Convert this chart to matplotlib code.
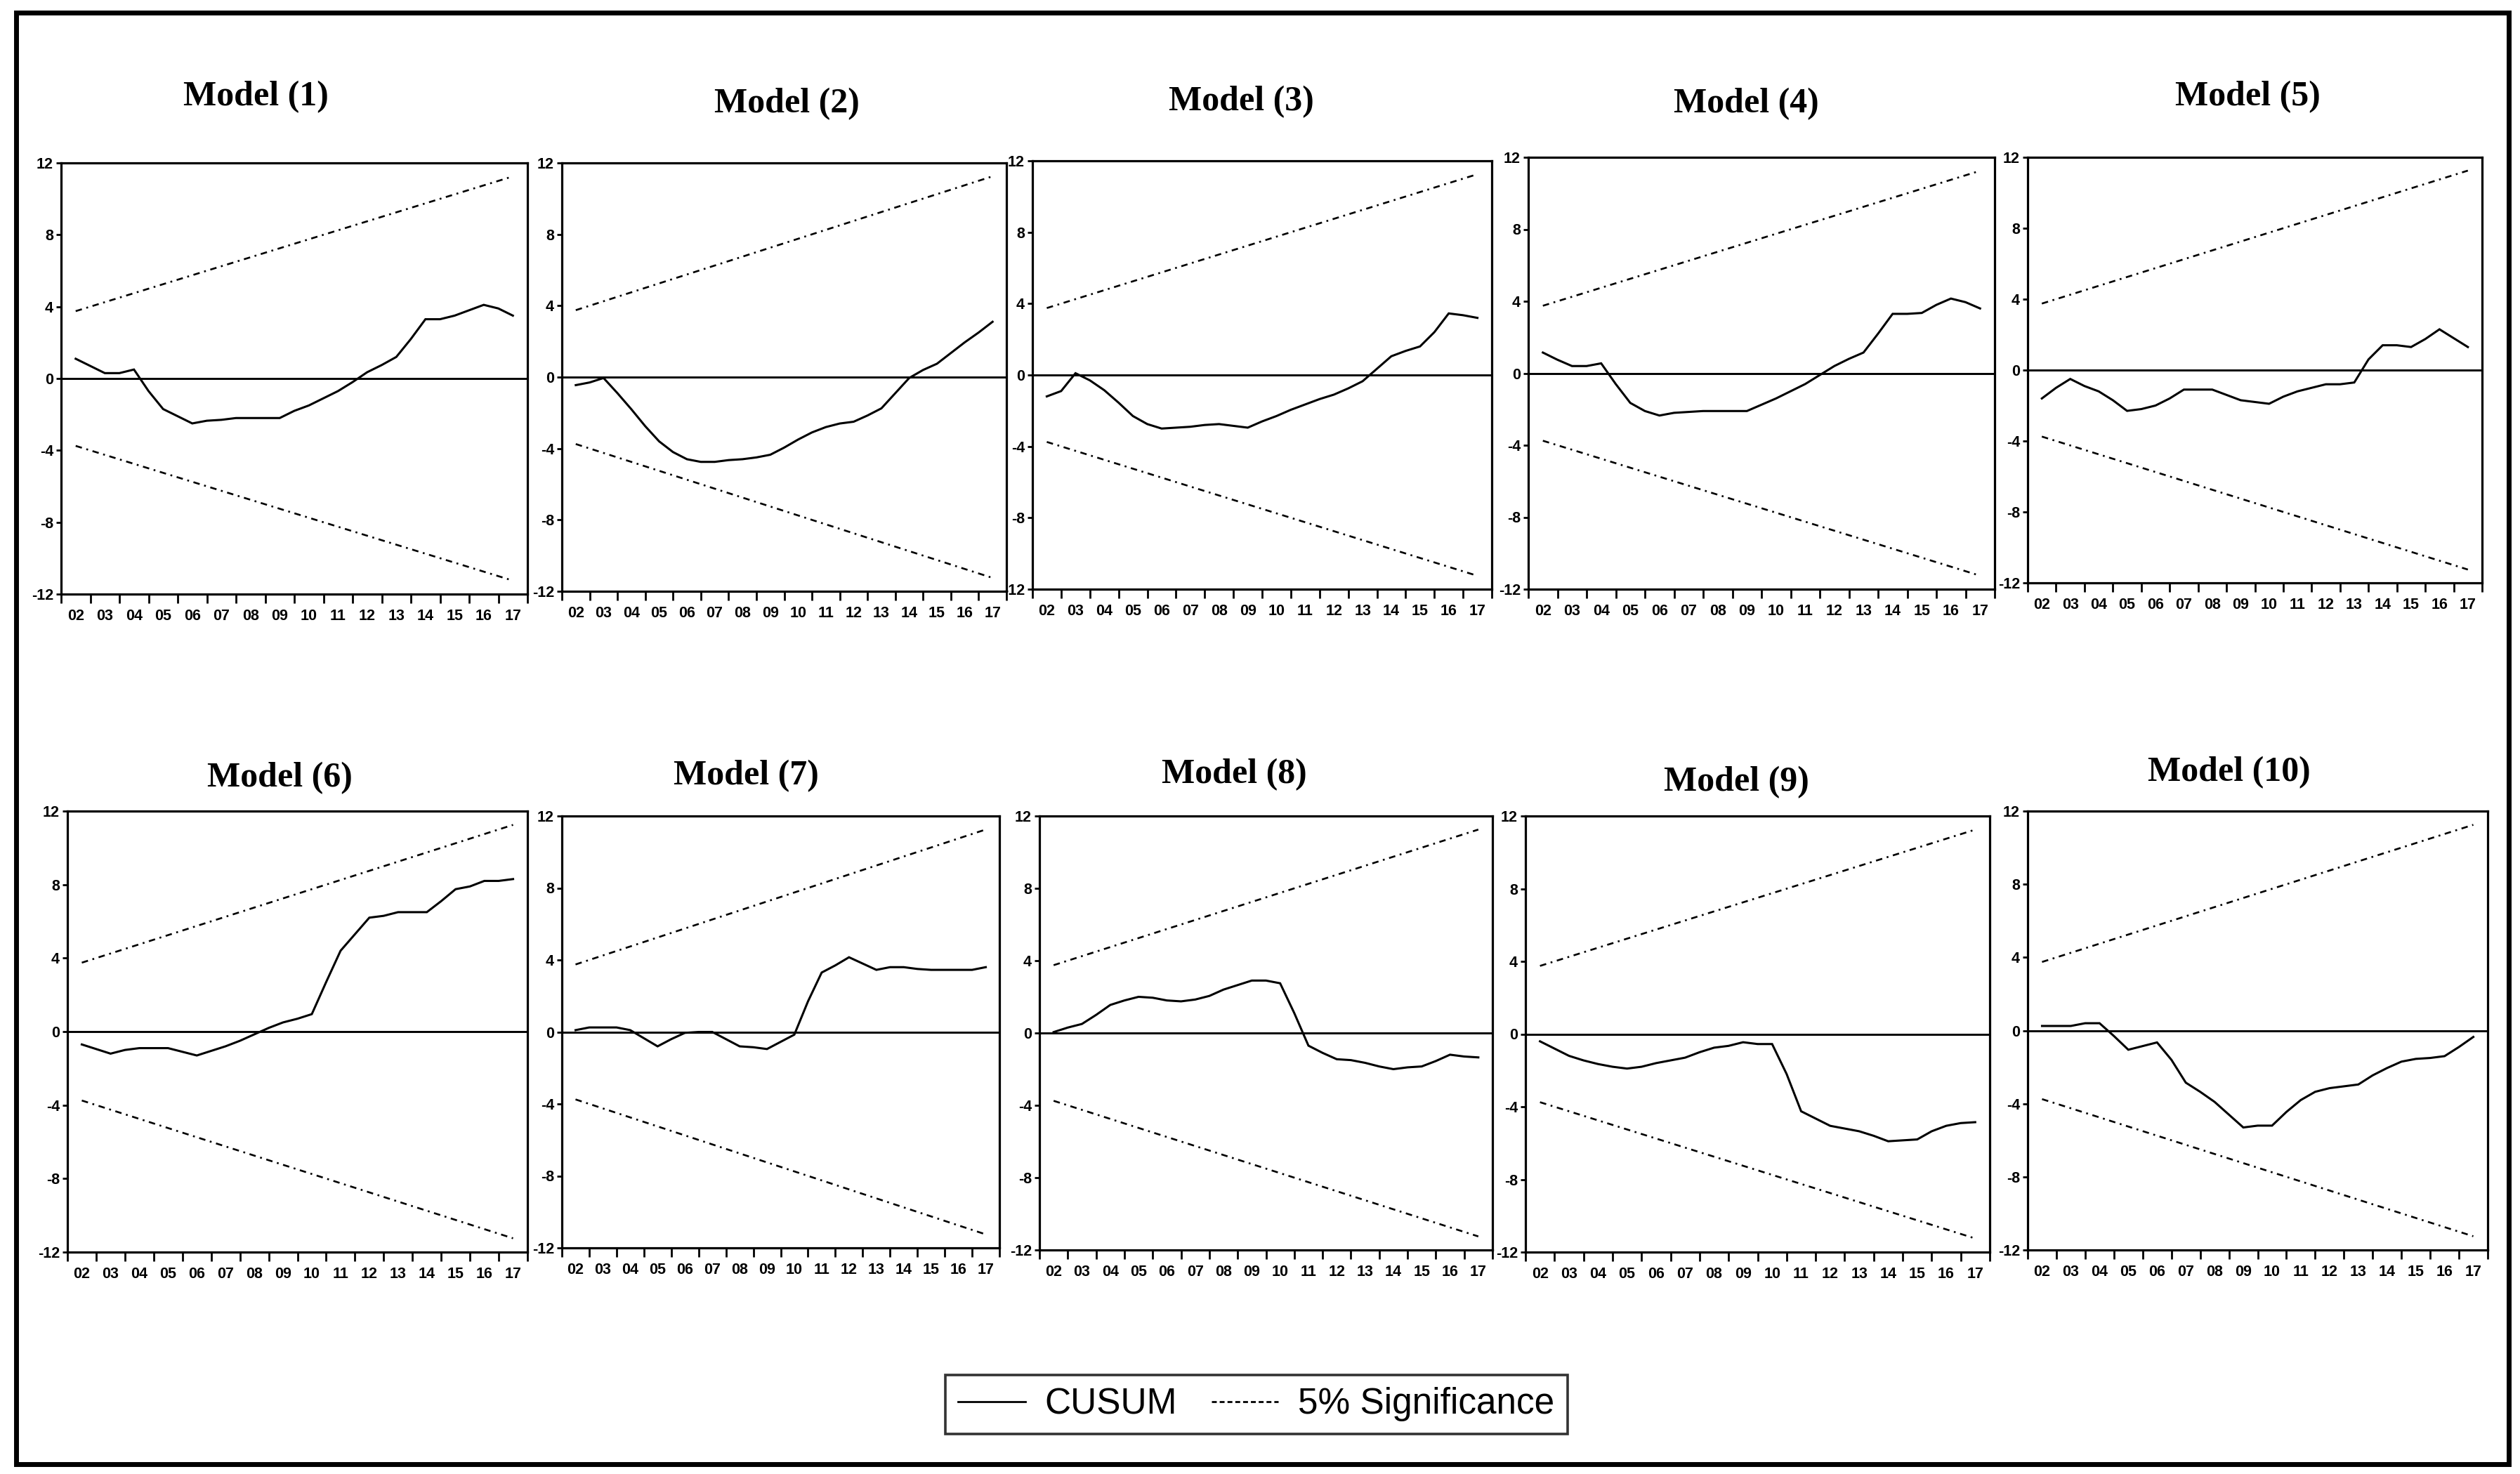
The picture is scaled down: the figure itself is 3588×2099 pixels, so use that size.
import numpy as np
import matplotlib
matplotlib.use("Agg")
import matplotlib.pyplot as plt
from matplotlib.lines import Line2D
from matplotlib.patches import Rectangle
from matplotlib import font_manager as fm

# ---------------- data ----------------
years = np.arange(2002, 2017.5, 0.5)          # half-year points 2002 .. 2017
year_ticks = np.arange(2002, 2018)
year_labels = ['02', '03', '04', '05', '06', '07', '08', '09',
               '10', '11', '12', '13', '14', '15', '16', '17']
y_ticks = [-12, -8, -4, 0, 4, 8, 12]

titles = ['Model (1)', 'Model (2)', 'Model (3)', 'Model (4)', 'Model (5)',
          'Model (6)', 'Model (7)', 'Model (8)', 'Model (9)', 'Model (10)']

cusum_1 = [1.1, 0.7, 0.3, 0.3, 0.5, -0.7, -1.7, -2.1, -2.5, -2.35, -2.3, -2.2, -2.2, -2.2, -2.2, -1.8,
           -1.5, -1.1, -0.7, -0.2, 0.35, 0.75, 1.2, 2.2, 3.3, 3.3, 3.5, 3.8, 4.1, 3.9, 3.5]
cusum_2 = [-0.45, -0.3, -0.05, -0.9, -1.8, -2.75, -3.6, -4.2, -4.6, -4.75, -4.75, -4.65, -4.6, -4.5, -4.35, -3.95,
           -3.5, -3.1, -2.8, -2.6, -2.5, -2.15, -1.75, -0.9, -0.05, 0.4, 0.75, 1.35, 1.95, 2.5, 3.1]
cusum_3 = [-1.2, -0.9, 0.1, -0.3, -0.85, -1.55, -2.3, -2.75, -3.0, -2.95, -2.9, -2.8, -2.75, -2.85, -2.95, -2.6,
           -2.3, -1.95, -1.65, -1.35, -1.1, -0.75, -0.35, 0.35, 1.05, 1.35, 1.6, 2.4, 3.45, 3.35, 3.2]
cusum_4 = [1.15, 0.75, 0.4, 0.4, 0.55, -0.6, -1.65, -2.1, -2.35, -2.2, -2.15, -2.1, -2.1, -2.1, -2.1, -1.75,
           -1.4, -1.0, -0.6, -0.1, 0.4, 0.8, 1.15, 2.2, 3.3, 3.3, 3.35, 3.8, 4.15, 3.95, 3.6]
cusum_5 = [-1.6, -1.0, -0.5, -0.9, -1.2, -1.7, -2.3, -2.2, -2.0, -1.6, -1.1, -1.1, -1.1, -1.4, -1.7, -1.8,
           -1.9, -1.5, -1.2, -1.0, -0.8, -0.8, -0.7, 0.6, 1.4, 1.4, 1.3, 1.75, 2.3, 1.8, 1.3]
cusum_6 = [-0.7, -0.95, -1.2, -1.0, -0.9, -0.9, -0.9, -1.1, -1.3, -1.05, -0.8, -0.5, -0.15, 0.2, 0.5, 0.7,
           0.95, 2.7, 4.4, 5.3, 6.2, 6.3, 6.5, 6.5, 6.5, 7.1, 7.75, 7.9, 8.2, 8.2, 8.3]
cusum_7 = [0.1, 0.25, 0.25, 0.25, 0.1, -0.35, -0.8, -0.4, -0.05, 0.0, 0.0, -0.4, -0.8, -0.85, -0.95, -0.55,
           -0.15, 1.7, 3.3, 3.7, 4.15, 3.8, 3.45, 3.6, 3.6, 3.5, 3.45, 3.45, 3.45, 3.45, 3.6]
cusum_8 = [0.05, 0.3, 0.5, 1.0, 1.55, 1.8, 2.0, 1.95, 1.8, 1.75, 1.85, 2.05, 2.4, 2.65, 2.9, 2.9,
           2.75, 1.1, -0.7, -1.1, -1.45, -1.5, -1.65, -1.85, -2.0, -1.9, -1.85, -1.55, -1.2, -1.3, -1.35]
cusum_9 = [-0.4, -0.8, -1.2, -1.45, -1.65, -1.8, -1.9, -1.8, -1.6, -1.45, -1.3, -1.0, -0.75, -0.65, -0.45, -0.55,
           -0.55, -2.2, -4.25, -4.65, -5.05, -5.2, -5.35, -5.6, -5.9, -5.85, -5.8, -5.35, -5.05, -4.9, -4.85]
cusum_10 = [0.25, 0.25, 0.25, 0.4, 0.4, -0.3, -1.05, -0.85, -0.65, -1.6, -2.85, -3.35, -3.9, -4.6, -5.3, -5.2,
            -5.2, -4.45, -3.8, -3.35, -3.15, -3.05, -2.95, -2.45, -2.05, -1.7, -1.55, -1.5, -1.4, -0.9, -0.35]

bound_years = [2002, 2017]
upper_bound = [3.75, 11.25]
lower_bound = [-3.75, -11.25]

cusums = [cusum_1, cusum_2, cusum_3, cusum_4, cusum_5,
          cusum_6, cusum_7, cusum_8, cusum_9, cusum_10]

# ---------------- layout (pixel boxes: left, right, top, bottom) ----------------
W, H = 3588, 2099
boxes = [(87, 751, 232, 846), (800, 1433, 232, 842), (1470, 2124, 229, 839),
         (2176, 2840, 224, 839), (2887, 3534, 224, 830),
         (96, 751, 1155, 1783), (800, 1423, 1162, 1777), (1480, 2125, 1162, 1780),
         (2172, 2833, 1162, 1783), (2887, 3542, 1155, 1780)]
title_pos = [(364, 138), (1120, 148), (1767, 145), (2486, 148), (3200, 138),
             (398, 1108), (1062, 1105), (1757, 1103), (2472, 1114), (3174, 1100)]


def has_font(name):
    try:
        fm.findfont(fm.FontProperties(family=name), fallback_to_default=False)
        return True
    except Exception:
        return False


if has_font('Liberation Sans Narrow'):
    tick_family, tick_size = 'Liberation Sans Narrow', 18
else:
    tick_family, tick_size = 'Liberation Sans', 15.5

fig = plt.figure(figsize=(W / 100, H / 100), dpi=100)
fig.patch.set_facecolor('white')

sig_style = (0, (3.5, 2.5, 1.0, 2.5))

for i, (cus, box, ttl, tp) in enumerate(zip(cusums, boxes, titles, title_pos)):
    l, r, t, b = box
    ax = fig.add_axes([l / W, 1 - b / H, (r - l) / W, (b - t) / H])
    ax.plot(bound_years, upper_bound, color='black', lw=1.9, linestyle=sig_style)
    ax.plot(bound_years, lower_bound, color='black', lw=1.9, linestyle=sig_style)
    ax.axhline(0, color='black', lw=2.1)
    ax.plot(years, cus, color='black', lw=2.2, solid_joinstyle='miter')
    ax.set_xlim(2001.5, 2017.5)
    ax.set_ylim(-12, 12)
    # x: tick marks at year boundaries, labels at year centres
    ax.set_xticks(np.arange(2001.5, 2018, 1.0))
    ax.set_xticklabels([])
    ax.set_xticks(year_ticks, minor=True)
    ax.set_xticklabels(year_labels, minor=True, fontfamily=tick_family,
                       fontsize=tick_size, fontweight='bold')
    ax.tick_params(axis='x', which='major', direction='out', length=9, width=2.0)
    ax.tick_params(axis='x', which='minor', length=0, pad=15)
    ax.set_yticks(y_ticks)
    ax.set_yticklabels([str(v) for v in y_ticks], fontfamily=tick_family,
                       fontsize=tick_size, fontweight='bold')
    ax.tick_params(axis='y', direction='out', length=5, width=2.0, pad=3)
    for s in ax.spines.values():
        s.set_linewidth(2.3)
        s.set_color('black')
    fig.text(tp[0] / W, 1 - tp[1] / H, ttl, ha='center', va='center',
             fontfamily='Liberation Serif', fontweight='bold', fontsize=36)

# legend
handles = [Line2D([0], [0], color='black', lw=2.0),
           Line2D([0], [0], color='black', lw=2.0, linestyle=(0, (2.5, 1.5)))]
leg = fig.legend(handles, ['CUSUM', '5% Significance'], loc='center',
                 bbox_to_anchor=(1789 / W, 1 - 2000 / H), ncol=2, frameon=True,
                 fancybox=False, edgecolor='black', handlelength=1.85,
                 handletextpad=0.55, columnspacing=0.95, borderpad=0.35,
                 prop={'family': 'Liberation Sans', 'size': 37})
leg.get_frame().set_linewidth(2.6)

# outer border
fig.patches.append(Rectangle((23 / W, 1 - 2085 / H), (3572 - 23) / W, (2085 - 18) / H,
                             transform=fig.transFigure, fill=False,
                             edgecolor='black', linewidth=5))

fig.savefig('out.png', dpi=100, facecolor='white')
